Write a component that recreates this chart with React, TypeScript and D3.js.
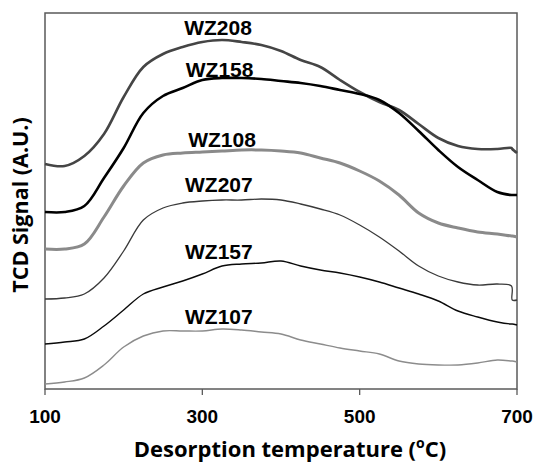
import React from "react";
import * as d3 from "d3";

const temps = [100,125,150,175,200,225,250,275,300,325,350,375,400,425,450,475,500,525,550,575,600,625,650,675,693,694,700];
const wz208 = [225,223,233,255,292,322,335,342,347,349,347,344,338,329,322,309,297,287,279,265,251,243,240,240,241,240,236];
const wz158 = [177,177,183,211,241,276,293,301,309,311,311,310,308,306,303,299,295,289,276,258,239,222,209,197,194,194,194];
const wz108 = [140,140,145,172,203,226,234,236,237,238,239,239,238,236,231,226,218,208,194,176,166,161,157,155,153,153,152];
const wz207 = [90,91,95,111,138,169,181,186,188,189,189,190,189,185,180,174,164,152,138,123,113,107,104,105,103,89,89];
const wz157 = [45,47,50,63,79,95,102,108,115,123,125,126,128,123,119,116,112,107,101,95,88,78,72,67,65,65,64];
const wz107 = [5,7,11,24,42,53,58,58,58,60,59,57,55,49,45,41,38,35,28,25,24,24,26,29,28,28,27];

const seriesNames = ["WZ208","WZ158","WZ108","WZ207","WZ157","WZ107"];
const seriesValues = [wz208, wz158, wz108, wz207, wz157, wz107];
const seriesColors = ["#454545","#000000","#8a8a8a","#3a3a3a","#0a0a0a","#8c8c8c"];
const seriesWidths = [2.6,2.6,3,1.3,1.4,1.4];
const labelTemps = [320,322,325,321,321,321];
const labelSignals = [354,312,242,197,130,65];
const xTicks = [100,300,500,700];

const W = 536, H = 463;
const M = { left: 45, right: 19, top: 13, bottom: 74 };

export default function App() {
  const x = d3.scaleLinear().domain([100, 700]).range([M.left, W - M.right]);
  const y = d3.scaleLinear().domain([0, 376]).range([H - M.bottom, M.top]);
  const line = d3.line<[number, number]>()
    .x(d => x(d[0]))
    .y(d => y(d[1]))
    .curve(d3.curveCatmullRom.alpha(0.5));
  const x0 = x(100), x1 = x(700), y0 = y(0), y1 = y(376);
  return (
    <svg width={W} height={H} style={{ position: "absolute", left: 0, top: 0, background: "#fff" }}>
      <rect x={x0} y={y1} width={x1 - x0} height={y0 - y1} fill="none" stroke="#5a5a5a" strokeWidth={1.5} />
      {seriesValues.map((vals, i) => (
        <path key={seriesNames[i]}
          d={line(temps.map((t, j) => [t, vals[j]] as [number, number])) || ""}
          fill="none" stroke={seriesColors[i]} strokeWidth={seriesWidths[i]} strokeLinejoin="round" />
      ))}
      {seriesNames.map((n, i) => (
        <text key={n} x={x(labelTemps[i])} y={y(labelSignals[i])} textAnchor="middle"
          fontFamily="'Liberation Sans', Arial, sans-serif" fontWeight="bold" fontSize={21} fill="#000">{n}</text>
      ))}
      {xTicks.map(t => (
        <g key={t}>
          <line x1={x(t)} x2={x(t)} y1={y0} y2={y0 + 6} stroke="#5a5a5a" strokeWidth={1.3} />
          <text x={x(t)} y={423} textAnchor="middle" fontFamily="'Liberation Sans', Arial, sans-serif"
            fontWeight="bold" fontSize={19} fill="#000">{t}</text>
        </g>
      ))}
      <text x={290} y={457} textAnchor="middle" fontFamily="'Open Sans', sans-serif" fontWeight="bold" fontSize={22} fill="#000">
        Desorption temperature (<tspan fontSize={14} baselineShift="9">o</tspan>C)
      </text>
      <text transform="translate(28,205) rotate(-90)" textAnchor="middle" fontFamily="'Open Sans', sans-serif"
        fontWeight="bold" fontSize={21.5} fill="#000">TCD Signal (A.U.)</text>
    </svg>
  );
}
